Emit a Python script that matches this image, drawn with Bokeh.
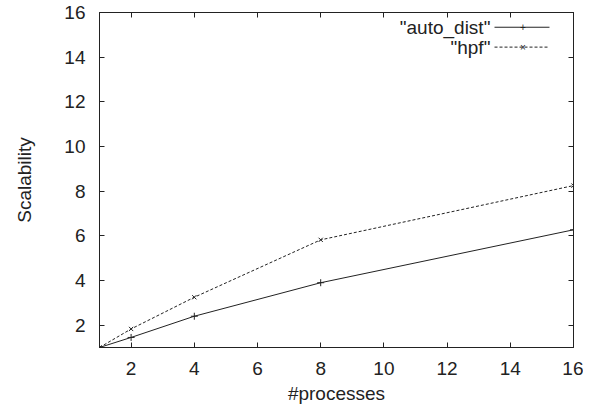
from bokeh.plotting import figure
from bokeh.models import (LinearAxis, SingleIntervalTicker, Label, Arrow, Range1d,
                          ColumnDataSource, CustomJSTickFormatter)
from bokeh.embed import file_html
from bokeh.resources import INLINE

processes = [1, 2, 4, 8, 16]
auto_dist = [1.0, 1.45, 2.4, 3.9, 6.27]
hpf = [1.0, 1.83, 3.25, 5.82, 8.25]

FONT = "Liberation Sans"
INK = "#222222"
FS = "19px"

p = figure(frame_width=474, frame_height=335, output_backend="svg", toolbar_location=None,
           x_range=Range1d(1, 16), y_range=Range1d(1, 16),
           min_border_left=99, min_border_top=12, min_border_right=10, min_border_bottom=40)
p.grid.visible = False
p.outline_line_color = INK
p.outline_line_width = 1
p.background_fill_color = "white"
p.border_fill_color = "white"

for ax in (p.xaxis[0], p.yaxis[0]):
    ax.ticker = SingleIntervalTicker(interval=2)
    ax.major_tick_in = 5
    ax.major_tick_out = 0
    ax.minor_tick_line_color = None
    ax.axis_line_color = INK
    ax.major_tick_line_color = INK
    ax.major_label_text_font = FONT
    ax.major_label_text_font_size = FS
    ax.major_label_text_color = INK
    ax.axis_label_text_font = FONT
    ax.axis_label_text_font_size = FS
    ax.axis_label_text_font_style = "normal"
    ax.axis_label_text_color = INK

p.xaxis.axis_label = "#processes"
p.xaxis.major_label_standoff = 10
p.xaxis.axis_label_standoff = 5
p.yaxis.axis_label = "Scalability"
p.yaxis.major_label_standoff = 10
p.yaxis.axis_label_standoff = 26

for loc in ("above", "right"):
    ax = LinearAxis(ticker=SingleIntervalTicker(interval=2),
                    formatter=CustomJSTickFormatter(code="return ''"))
    ax.major_tick_in = 5
    ax.major_tick_out = 0
    ax.minor_tick_line_color = None
    ax.axis_line_color = INK
    ax.major_tick_line_color = INK
    ax.major_label_standoff = 0
    p.add_layout(ax, loc)

src = ColumnDataSource(dict(x=processes, a=auto_dist, h=hpf))
p.line("x", "a", source=src, line_color=INK, line_width=1)
p.scatter("x", "a", source=src, marker="cross", size=7, line_color=INK, line_width=1)
p.line("x", "h", source=src, line_color=INK, line_width=1, line_dash="3 2")
p.scatter("x", "h", source=src, marker="x", size=6, line_color=INK, line_width=1)

# legend (gnuplot style: text then sample)
leg_labels = ['"auto_dist"', '"hpf"']
leg_y = [15.34, 14.45]
leg_dash = ["solid", "3 2"]
leg_marker = ["+", "\u00d7"]
for lab, yy, dash, mk in zip(leg_labels, leg_y, leg_dash, leg_marker):
    p.add_layout(Label(x=13.37, y=yy, text=lab, text_align="right", text_baseline="middle",
                       text_font=FONT, text_font_size=FS, text_color=INK))
    p.add_layout(Arrow(x_start=13.5, y_start=yy, x_end=15.24, y_end=yy, end=None,
                       line_color=INK, line_width=1, line_dash=dash))
    p.add_layout(Label(x=14.4, y=yy, text=mk, text_align="center", text_baseline="middle",
                       text_font=FONT, text_font_size="10px", text_color=INK))

open("out.html", "w").write(file_html(p, INLINE))
